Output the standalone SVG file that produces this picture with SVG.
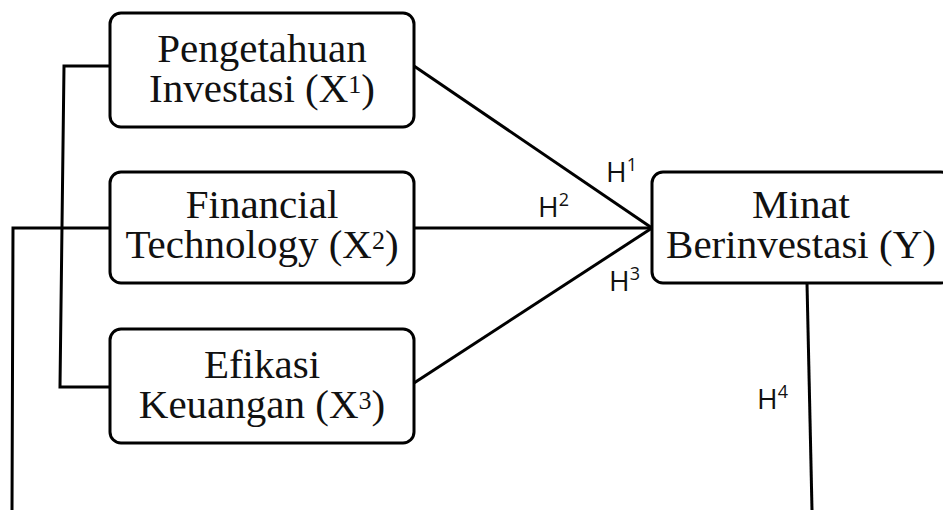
<svg xmlns="http://www.w3.org/2000/svg" width="943" height="510" viewBox="0 0 943 510">
<style>
.box{fill:#fff;stroke:#000;stroke-width:3}
.t{font-family:"Liberation Serif","Times New Roman",serif;font-size:41px;fill:#111;text-anchor:middle}
.h{font-family:"Open Sans","Liberation Sans",sans-serif;font-size:28px;fill:#111}
.sup{font-size:26px}
.hs{font-size:18px}
.c{fill:none;stroke:#000;stroke-width:3}
</style>
<rect width="943" height="510" fill="#fff"/>
<g id="connectors">
<polyline class="c" points="110,66 64,66 60,387 110,387"/>
<polyline class="c" points="110,228 13,228 12,510"/>
<line class="c" x1="414" y1="66" x2="652" y2="228"/>
<line class="c" x1="414" y1="228" x2="652" y2="228"/>
<line class="c" x1="414" y1="383" x2="652" y2="228"/>
<line class="c" x1="807" y1="283" x2="812" y2="510"/>
<text class="h" x="606" y="182">H<tspan class="hs" dy="-11">1</tspan></text>
<text class="h" x="538" y="217">H<tspan class="hs" dy="-11">2</tspan></text>
<text class="h" x="609" y="291">H<tspan class="hs" dy="-11">3</tspan></text>
<text class="h" x="757" y="409">H<tspan class="hs" dy="-11">4</tspan></text>
</g>
<g id="x1">
<rect class="box" x="110" y="13" width="304" height="114" rx="11"/>
<text class="t" x="262" y="62">Pengetahuan<tspan x="262" dy="40">Investasi (X</tspan><tspan class="sup" dy="-9">1</tspan><tspan dy="9">)</tspan></text>
</g>
<g id="x2">
<rect class="box" x="110" y="172" width="304" height="111" rx="11"/>
<text class="t" x="262" y="218">Financial<tspan x="262" dy="40">Technology (X</tspan><tspan class="sup" dy="-9">2</tspan><tspan dy="9">)</tspan></text>
</g>
<g id="x3">
<rect class="box" x="110" y="329" width="304" height="114" rx="11"/>
<text class="t" x="262" y="378">Efikasi<tspan x="262" dy="40">Keuangan (X</tspan><tspan class="sup" dy="-9">3</tspan><tspan dy="9">)</tspan></text>
</g>
<g id="y">
<rect class="box" x="652" y="172" width="300" height="111" rx="11"/>
<text class="t" x="801" y="218">Minat<tspan x="801" dy="40">Berinvestasi (Y)</tspan></text>
</g>
</svg>
